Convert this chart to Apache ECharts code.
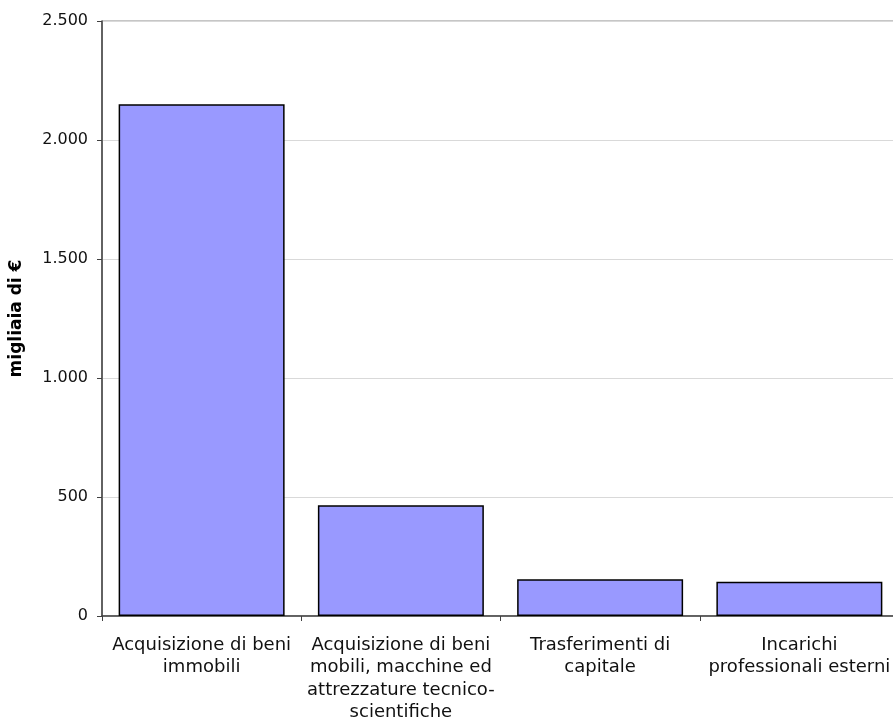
<!DOCTYPE html>
<html>
<head>
<meta charset="utf-8">
<script src="https://cdn.jsdelivr.net/npm/echarts@6/dist/echarts.min.js"></script>
<style>
html,body{margin:0;padding:0;background:#fff;overflow:hidden;}
#chart{width:893px;height:719px;}
</style>
</head>
<body>
<div id="chart"></div>
<script>
var categories = [
  "Acquisizione di beni\nimmobili",
  "Acquisizione di beni\nmobili, macchine ed\nattrezzature tecnico-\nscientifiche",
  "Trasferimenti di\ncapitale",
  "Incarichi\nprofessionali esterni"
];
var values = [2150, 465, 154, 144];
var yTicks = { min: 0, max: 2500, interval: 500 };
var yName = "migliaia di €";

function fmt(v) {
  return String(v).replace(/\B(?=(\d{3})+(?!\d))/g, ".");
}

var chart = echarts.init(document.getElementById("chart"), null, { renderer: "canvas", width: 893, height: 719 });
chart.setOption({
  animation: false,
  backgroundColor: "#ffffff",
  grid: {
    left: 102, top: 21, width: 797, height: 595,
    outerBoundsMode: "none",
    containLabel: false,
    show: true, borderColor: "#8c8c8c", borderWidth: 1, backgroundColor: "transparent"
  },
  xAxis: {
    type: "category",
    data: categories,
    axisLine: { lineStyle: { color: "#404040", width: 1.5 } },
    axisTick: { show: true, length: 5, lineStyle: { color: "#404040" } },
    axisLabel: {
      interval: 0, margin: 18, color: "#111",
      fontFamily: "DejaVu Sans", fontSize: 18, lineHeight: 22.5
    }
  },
  yAxis: {
    type: "value",
    min: yTicks.min, max: yTicks.max, interval: yTicks.interval,
    name: yName,
    nameLocation: "middle",
    nameGap: 77,
    nameTextStyle: { fontFamily: "DejaVu Sans", fontWeight: "bold", fontSize: 17, color: "#000" },
    axisLine: { show: true, lineStyle: { color: "#404040", width: 1.5 } },
    axisTick: { show: true, length: 5, lineStyle: { color: "#404040" } },
    axisLabel: {
      margin: 14, color: "#111", fontFamily: "DejaVu Sans", fontSize: 16,
      formatter: fmt
    },
    splitLine: { show: true, lineStyle: { color: "#d9d9d9", width: 1 } }
  },
  series: [{
    type: "bar",
    data: values,
    barCategoryGap: "16.7%",
    itemStyle: { color: "#9999ff", borderColor: "#000", borderWidth: 1.5 }
  }]
});
</script>
</body>
</html>
